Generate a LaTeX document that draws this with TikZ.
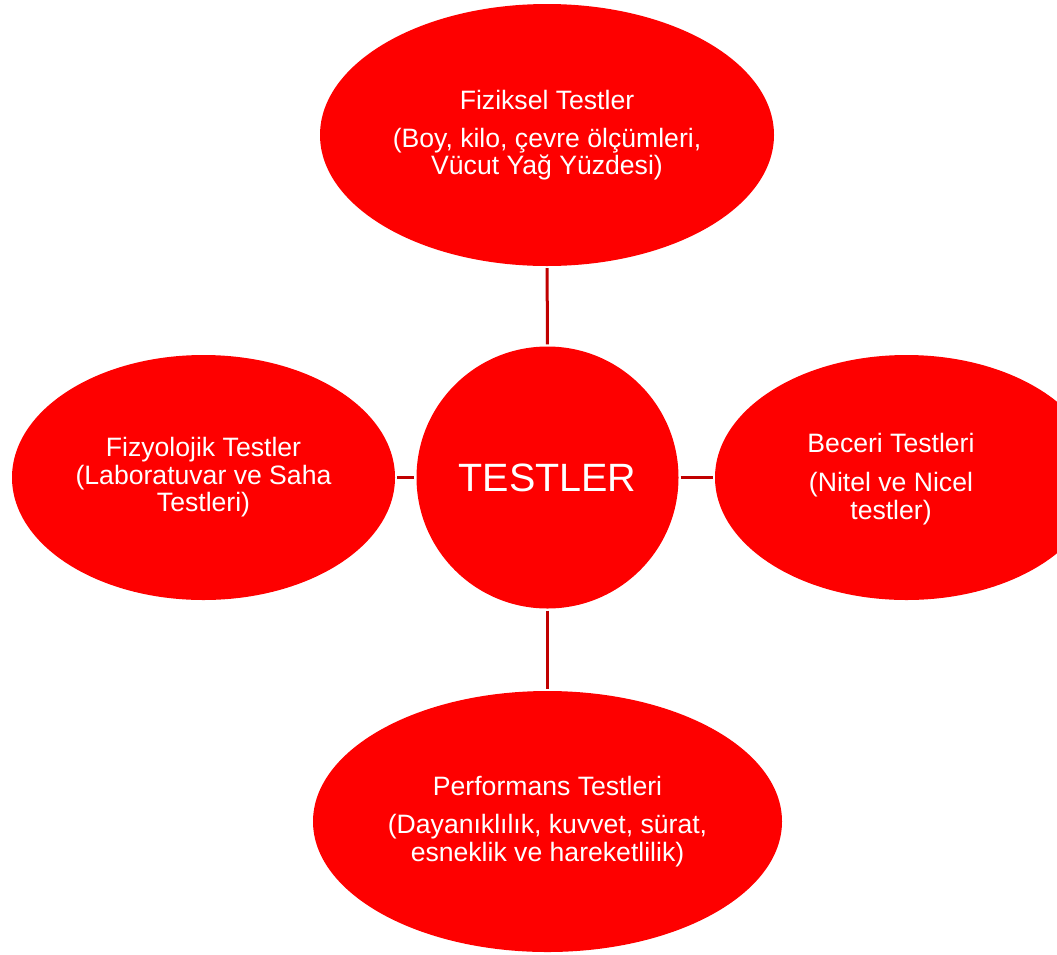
\documentclass[tikz,border=0pt]{standalone}
\usepackage{fontspec}
\setmainfont{Liberation Sans}
\usetikzlibrary{shapes.geometric}
\definecolor{bubblered}{HTML}{FE0000}
\definecolor{linkred}{HTML}{C00000}
\begin{document}
\begin{tikzpicture}[x=1pt,y=-1pt,
  bubble/.style={ellipse, fill=bubblered, inner sep=0pt, text=white, align=center,
    font=\fontsize{26.6}{27.5}\selectfont},
  hub/.style={circle, fill=bubblered, inner sep=0pt, text=white,
    minimum size=262pt, font=\fontsize{39.5}{40}\selectfont},
  caption/.style={text=white, align=center, inner sep=0pt, font=\fontsize{26.6}{27.5}\selectfont},
  link/.style={draw=linkred, line width=3pt, shorten <=2pt, shorten >=2pt}]
\useasboundingbox (0,0) rectangle (1057,954);
\clip (0,0) rectangle (1057,954);

% central hub
\node[hub] (hub) at (547.5,477.5) {TESTLER};

% surrounding test groups
\node[bubble, minimum width=454pt, minimum height=262pt] (fiz) at (547,135)
  {Fiziksel Testler\\[10.5pt](Boy, kilo, çevre ölçümleri,\\Vücut Yağ Yüzdesi)};
\node[bubble, minimum width=383pt, minimum height=245pt] (fizyo) at (203.5,477.5)
  {Fizyolojik Testler\\(Laboratuvar ve Saha\\Testleri)};
\node[bubble, minimum width=383pt, minimum height=245pt] (bec) at (906.5,477.5) {};
\node[caption] (bectext) at (891,479)
  {Beceri Testleri\\[12pt](Nitel ve Nicel\\testler)};
\node[bubble, minimum width=469pt, minimum height=261pt] (perf) at (547.5,821.5)
  {Performans Testleri\\[10.5pt](Dayanıklılık, kuvvet, sürat,\\esneklik ve hareketlilik)};

% connectors
\draw[link] (fiz) -- (hub);
\draw[link] (fizyo) -- (hub);
\draw[link] (hub) -- (bec);
\draw[link] (hub) -- (perf);
\end{tikzpicture}
\end{document}
